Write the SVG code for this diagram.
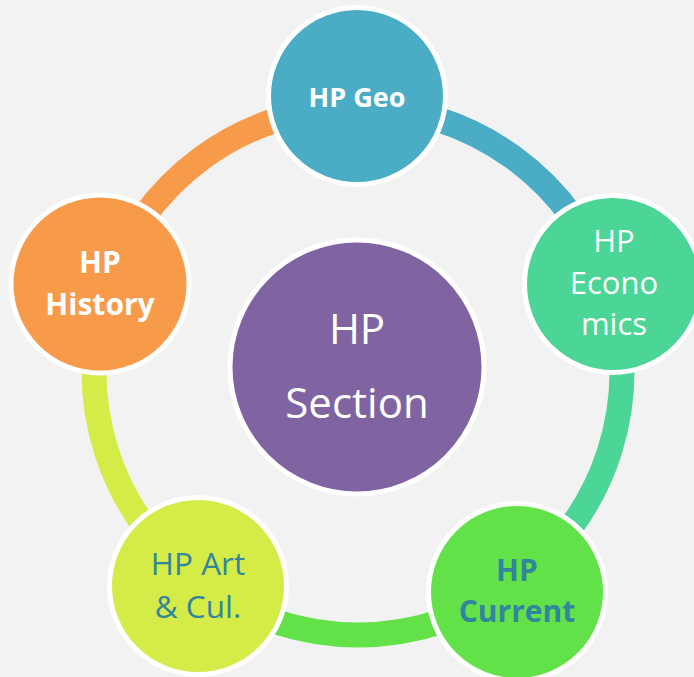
<svg xmlns="http://www.w3.org/2000/svg" width="694" height="677" viewBox="0 0 694 677">
  <style>
    .ring { fill: none; stroke-width: 25; }
    .node { stroke: #FFFFFF; stroke-width: 5; }
    .t { font-family: "Open Sans", "Liberation Sans", sans-serif; text-anchor: middle; }
    .w { fill: #FFFFFF; }
    .b { font-weight: bold; }
    .dk { fill: #31859C; }
  </style>
  <rect x="0" y="0" width="694" height="677" fill="#F2F2F2"/>
  <g id="connectors">
    <path class="ring" stroke="#4BACC6" d="M358 107 A264 264 0 0 1 609.1 289.4"/>
    <path class="ring" stroke="#4BD596" d="M609.1 289.4 A264 264 0 0 1 513.2 584.6"/>
    <path class="ring" stroke="#62E248" d="M513.2 584.6 A264 264 0 0 1 202.8 584.6"/>
    <path class="ring" stroke="#D4EB48" d="M202.8 584.6 A264 264 0 0 1 106.9 289.4"/>
    <path class="ring" stroke="#F79A4A" d="M106.9 289.4 A264 264 0 0 1 358 107"/>
  </g>
  <g id="hp-section">
    <circle class="node" cx="357" cy="367" r="127" fill="#8064A2"/>
    <text class="t w" x="357" y="344" font-size="42">HP</text>
    <text class="t w" x="357" y="418" font-size="42">Section</text>
  </g>
  <g id="hp-geo">
    <circle class="node" cx="357" cy="96" r="88.5" fill="#4BACC6"/>
    <text class="t w b" x="357" y="107" font-size="27">HP Geo</text>
  </g>
  <g id="hp-economics">
    <circle class="node" cx="613" cy="284" r="88.5" fill="#4BD596"/>
    <text class="t w" x="614" y="252" font-size="31">HP</text>
    <text class="t w" x="614" y="294" font-size="31">Econo</text>
    <text class="t w" x="614" y="335" font-size="31">mics</text>
  </g>
  <g id="hp-current">
    <circle class="node" cx="517" cy="592" r="88.5" fill="#62E248"/>
    <text class="t dk b" x="517" y="581" font-size="30">HP</text>
    <text class="t dk b" x="517" y="622" font-size="30">Current</text>
  </g>
  <g id="hp-art">
    <circle class="node" cx="198" cy="586" r="88.5" fill="#D4EB48"/>
    <text class="t dk" x="198" y="575" font-size="31.5">HP Art</text>
    <text class="t dk" x="198" y="618" font-size="31.5">&amp; Cul.</text>
  </g>
  <g id="hp-history">
    <circle class="node" cx="100" cy="284" r="89" fill="#F79A4A"/>
    <text class="t w b" x="100" y="273" font-size="30">HP</text>
    <text class="t w b" x="100" y="315" font-size="30">History</text>
  </g>
</svg>
